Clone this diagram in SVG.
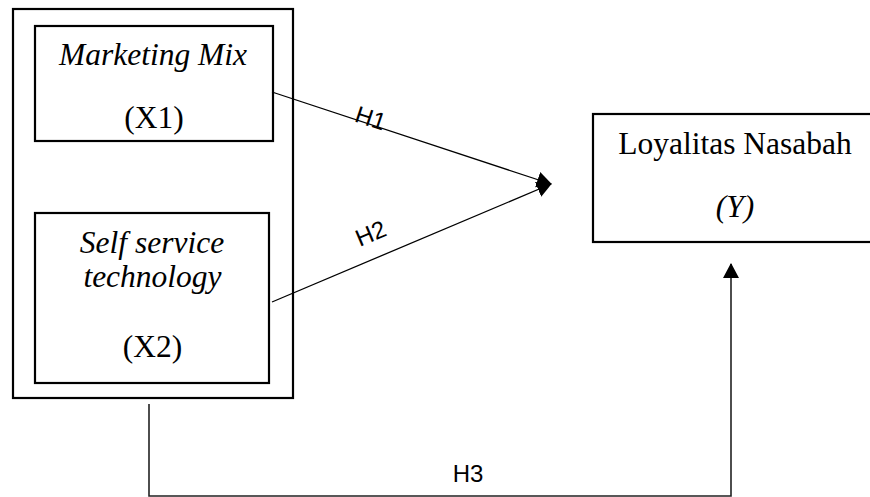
<svg xmlns="http://www.w3.org/2000/svg" width="870" height="497" viewBox="0 0 870 497">
<style>
.box{fill:#fff;stroke:#000;stroke-width:2.2}
.t{font-family:"Liberation Serif","Times New Roman",serif;font-size:31.5px;fill:#000;text-anchor:middle}
.i{font-style:italic}
.lbl{font-family:"Liberation Sans",Arial,sans-serif;font-size:24px;fill:#000;text-anchor:middle}
.c{fill:none;stroke:#000;stroke-width:1.3}
.c3{fill:none;stroke:#222;stroke-width:1.6}
</style>
<defs>
<marker id="ah" markerUnits="userSpaceOnUse" markerWidth="16" markerHeight="18" refX="14" refY="8" orient="auto">
<path d="M0,0 L15,8 L0,16 Z" fill="#000"/>
</marker>
</defs>
<g id="group-x">
<rect class="box" x="13" y="9" width="280" height="389"/>
</g>
<g id="node-x1">
<rect class="box" x="35" y="26" width="238" height="115"/>
<text class="t i" x="153" y="65">Marketing Mix</text>
<text class="t" x="154" y="128">(X1)</text>
</g>
<g id="node-x2">
<rect class="box" x="35" y="213" width="234" height="170"/>
<text class="t i" x="152" y="253">Self service</text>
<text class="t i" x="152.5" y="287">technology</text>
<text class="t" x="152.5" y="357">(X2)</text>
</g>
<g id="node-y">
<rect class="box" x="593" y="114" width="290" height="128"/>
<text class="t" x="735" y="154">Loyalitas Nasabah</text>
<text class="t i" x="735" y="217">(Y)</text>
</g>
<g id="connectors">
<line class="c" x1="272" y1="92" x2="551" y2="184" marker-end="url(#ah)"/>
<line class="c" x1="272" y1="302" x2="551" y2="184" marker-end="url(#ah)"/>
<path class="c3" d="M149,404 V496 H731 V264" marker-end="url(#ah)"/>
<text class="lbl" transform="translate(368,126) rotate(18.3)">H1</text>
<text class="lbl" transform="translate(374,241) rotate(-22.8)">H2</text>
<text class="lbl" x="468" y="482">H3</text>
</g>
</svg>
